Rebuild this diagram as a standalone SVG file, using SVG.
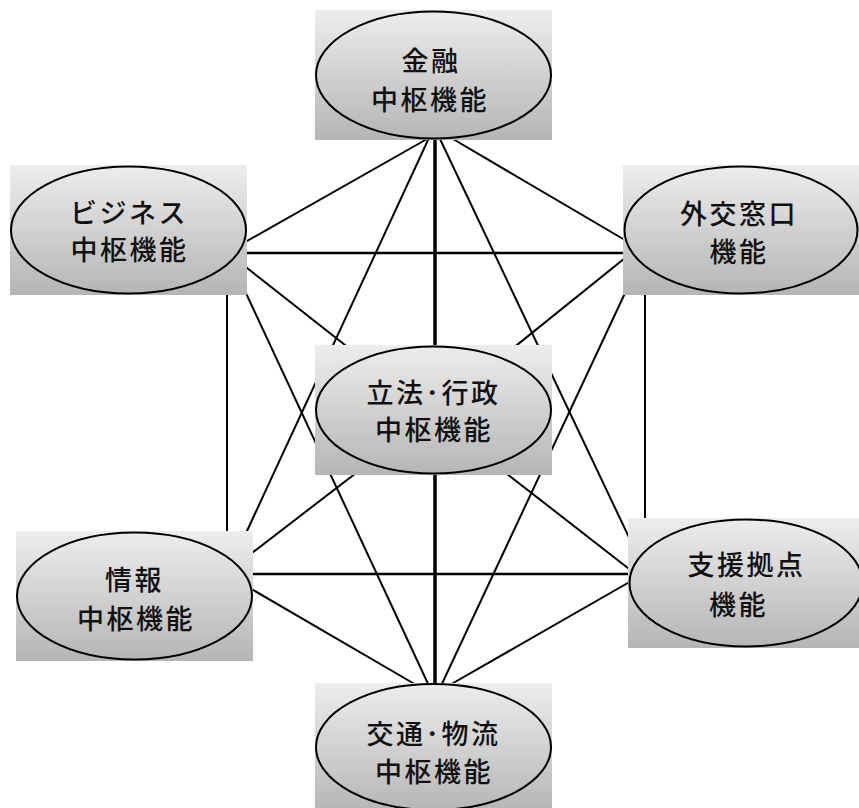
<svg xmlns="http://www.w3.org/2000/svg" width="859" height="808" viewBox="0 0 859 808">
<defs>
<linearGradient id="g" x1="0" y1="0" x2="0" y2="1">
<stop offset="0" stop-color="#ededed"/>
<stop offset="1" stop-color="#b5b5b5"/>
</linearGradient>
<style>
.bg{fill:url(#g)}
.el{fill:none;stroke:#000;stroke-width:2}
.t{font-family:"Noto Sans CJK JP","Noto Sans CJK SC",sans-serif;font-size:27px;font-weight:500;letter-spacing:2.5px;fill:#111;text-anchor:middle}
.c line{stroke:#000;stroke-width:2}
</style>
</defs>
<rect width="859" height="808" fill="#fff"/>
<g id="connectors" class="c">
<line x1="427" y1="139" x2="240" y2="245"/>
<line x1="453" y1="139" x2="630" y2="243"/>
<line x1="428.5" y1="139" x2="242.8" y2="540"/>
<line x1="440" y1="139" x2="635" y2="550"/>
<line x1="435" y1="138" x2="435" y2="686" style="stroke-width:3.5"/>
<line x1="245" y1="253" x2="626" y2="253" style="stroke-width:2.5"/>
<line x1="227" y1="293" x2="227" y2="533"/>
<line x1="240" y1="262.5" x2="352" y2="350.5"/>
<line x1="245" y1="291" x2="430" y2="688"/>
<line x1="630" y1="254" x2="510" y2="350.6"/>
<line x1="626" y1="291" x2="440" y2="688"/>
<line x1="645" y1="293" x2="645" y2="520"/>
<line x1="248" y1="556" x2="360" y2="470"/>
<line x1="250" y1="574" x2="631" y2="574" style="stroke-width:2.5"/>
<line x1="248" y1="587" x2="418" y2="686"/>
<line x1="633" y1="572" x2="502" y2="470"/>
<line x1="633" y1="580" x2="448" y2="686"/>
</g>
<g id="node-kinyu">
<rect class="bg" x="315" y="10" width="237" height="130"/>
<ellipse class="el" cx="433.5" cy="75" rx="117.5" ry="63.5"/>
<text class="t" x="431" y="71">金融</text>
<text class="t" x="430" y="110">中枢機能</text>
</g>
<g id="node-business">
<rect class="bg" x="10" y="165" width="237" height="130"/>
<ellipse class="el" cx="128.5" cy="230" rx="117.5" ry="63.5"/>
<text class="t" x="129" y="223">ビジネス</text>
<text class="t" x="129.5" y="260">中枢機能</text>
</g>
<g id="node-gaiko">
<rect class="bg" x="623" y="165" width="237" height="130"/>
<ellipse class="el" cx="741" cy="230" rx="116.5" ry="63.5"/>
<text class="t" x="739" y="224">外交窓口</text>
<text class="t" x="739" y="262">機能</text>
</g>
<g id="node-rippo">
<rect class="bg" x="315" y="345" width="237" height="130"/>
<ellipse class="el" cx="433.5" cy="410" rx="117.5" ry="63.5"/>
<text class="t" x="433.5" y="403">立法･行政</text>
<text class="t" x="434" y="440">中枢機能</text>
</g>
<g id="node-joho">
<rect class="bg" x="16" y="531" width="237" height="130"/>
<ellipse class="el" cx="134.5" cy="596" rx="117.5" ry="63.5"/>
<text class="t" x="134.5" y="590">情報</text>
<text class="t" x="136" y="629">中枢機能</text>
</g>
<g id="node-shien">
<rect class="bg" x="628" y="518" width="237" height="130"/>
<ellipse class="el" cx="746" cy="583" rx="116.5" ry="63.5"/>
<text class="t" x="746.5" y="575">支援拠点</text>
<text class="t" x="738.5" y="615">機能</text>
</g>
<g id="node-kotsu">
<rect class="bg" x="315" y="683" width="237" height="130"/>
<ellipse class="el" cx="433.5" cy="747" rx="117.5" ry="63"/>
<text class="t" x="433.5" y="744">交通･物流</text>
<text class="t" x="434" y="782">中枢機能</text>
</g>
</svg>
